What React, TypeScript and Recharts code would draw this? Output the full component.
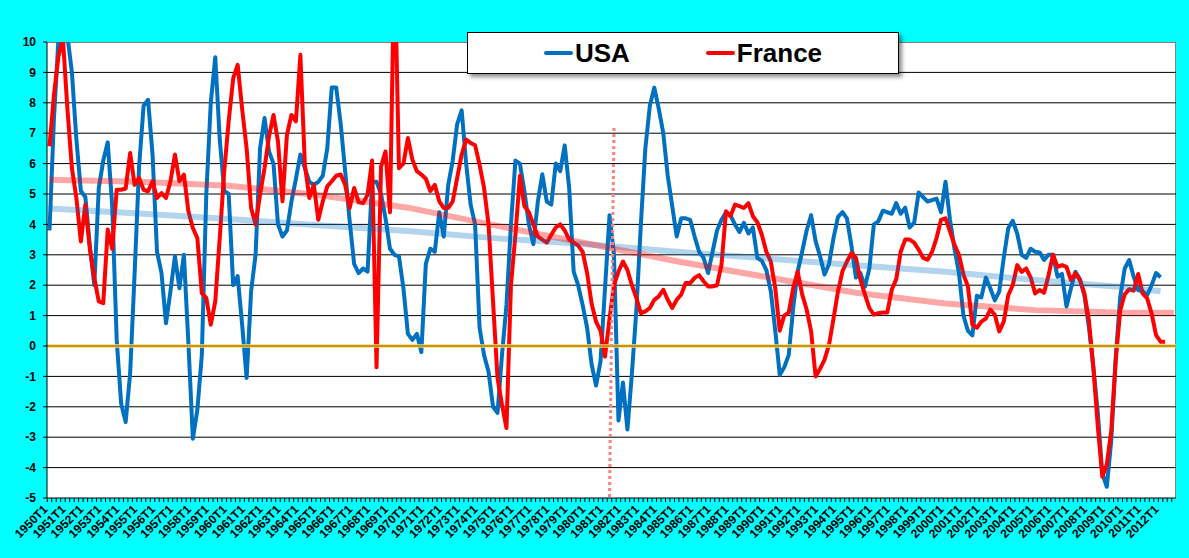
import { LineChart, Line, XAxis, YAxis, CartesianGrid, ReferenceLine } from "recharts";

const FONT = "Arial, 'Liberation Sans', sans-serif";

const FIRST_YEAR = 1950;
const LAST_YEAR = 2012;
const QUARTERS: string[] = [];
for (let y = FIRST_YEAR; y <= LAST_YEAR; y++) {
  for (let q = 1; q <= 4; q++) QUARTERS.push(`${y}T${q}`);
}

// year-on-year growth, quarterly, from 1950T1
const USA = [
  3.8, 7.5, 10.1, 11, 10.2, 9.0, 6.8, 5.1, 4.9, 3.3,
  2.0, 5.2, 6.1, 6.7, 4.6, 0.2, -1.9, -2.5, -0.9, 2.4,
  5.9, 7.9, 8.1, 6.3, 3.1, 2.4, 0.75, 1.8, 2.95, 1.9,
  3.0, 0.1, -3.05, -2.1, -0.3, 5.0, 8.0, 9.5, 6.8, 5.1,
  5.0, 2.0, 2.3, 0.7, -1.05, 1.8, 3.0, 6.5, 7.5, 6.4,
  6.0, 4.0, 3.6, 3.8, 4.75, 5.5, 6.3, 5.85, 5.4, 5.3,
  5.4, 5.6, 6.5, 8.5, 8.5, 7.3, 5.75, 4.1, 2.7, 2.4,
  2.55, 2.45, 5.4, 5.4, 5.0, 4.2, 3.2, 3.0, 2.95, 1.9,
  0.4, 0.2, 0.4, -0.2, 2.7, 3.2, 3.1, 4.4, 3.6, 5.3,
  6.1, 7.3, 7.75, 6.0, 4.65, 4.0, 0.6, -0.3, -0.85, -2.0,
  -2.2, -0.3, 1.35, 4.0, 6.1, 6.0, 5.1, 4.0, 3.35, 4.75,
  5.65, 4.75, 4.65, 6.0, 5.75, 6.6, 5.2, 2.45, 2.0, 1.35,
  0.6, -0.6, -1.3, -0.5, 1.9, 4.3, 3.0, -2.45, -1.2, -2.75,
  -0.9, 1.2, 4.0, 6.5, 7.9, 8.5, 7.8, 7.0, 5.6, 4.6,
  3.6, 4.2, 4.2, 4.15, 3.6, 3.1, 2.9, 2.4, 3.1, 3.8,
  4.15, 4.4, 4.3, 4.0, 3.75, 4.05, 3.7, 3.9, 2.9, 2.8,
  2.5, 1.8, 0.5, -0.95, -0.7, -0.3, 1.25, 2.45, 3.1, 3.8,
  4.3, 3.45, 2.95, 2.35, 2.7, 3.55, 4.25, 4.4, 4.2, 3.3,
  2.25, 2.4, 1.95, 2.55, 4.0, 4.1, 4.45, 4.4, 4.35, 4.7,
  4.35, 4.55, 3.9, 4.05, 5.05, 4.9, 4.75, 4.8, 4.85, 4.4,
  5.4, 4.15, 3.2, 2.4, 1.0, 0.5, 0.35, 1.65, 1.6, 2.25,
  1.9, 1.5, 1.8, 2.9, 3.87, 4.12, 3.7, 3.0, 2.9, 3.2,
  3.1, 3.08, 2.83, 3.0, 3.0, 2.28, 2.37, 1.3, 1.9, 2.44,
  2.2, 1.67, 0.63, -0.7, -2.2, -4.2, -4.63, -3.1, -0.35, 1.62,
  2.55, 2.83, 2.28, 1.84, 1.8, 1.67, 2.0, 2.4, 2.26,
];

const FRANCE = [
  6.57, 8.27, 9.53, 10.1, 7.8, 5.85, 4.87, 3.44, 4.65, 3.2,
  2.24, 1.47, 1.41, 3.83, 3.2, 5.14, 5.14, 5.18, 6.35, 5.3,
  5.53, 5.14, 5.09, 5.42, 4.87, 5.03, 4.87, 5.42, 6.3, 5.42,
  5.64, 4.43, 3.88, 3.55, 1.74, 1.58, 0.7, 1.47, 3.55, 5.75,
  7.4, 8.8, 9.25, 7.8, 6.5, 4.54, 4.0, 4.98, 5.86, 6.9,
  7.6, 6.73, 4.76, 6.95, 7.6, 7.39, 9.58, 5.96, 4.87, 5.3,
  4.15, 4.76, 5.25, 5.42, 5.6, 5.64, 5.3, 4.54, 5.2, 4.73,
  4.7, 4.98, 6.1, -0.7, 5.9, 6.4, 4.4, 13, 5.85, 6.0,
  6.84, 6.13, 5.75, 5.64, 5.5, 5.1, 5.3, 4.76, 4.54, 4.54,
  4.76, 5.53, 6.3, 6.79, 6.68, 6.6, 5.96, 5.2, 4.0, 1.47,
  -1.05, -1.93, -2.7, 2.0, 3.66, 5.6, 4.6, 4.4, 4.0, 3.6,
  3.5, 3.4, 3.66, 3.9, 4.0, 3.8, 3.5, 3.4, 3.3, 3.1,
  2.4, 1.4, 0.8, 0.5, -0.35, 0.9, 2.0, 2.45, 2.78, 2.5,
  2.0, 1.58, 1.08, 1.14, 1.25, 1.52, 1.63, 1.85, 1.52, 1.25,
  1.52, 1.69, 2.07, 2.07, 2.24, 2.33, 2.13, 1.96, 1.96, 2.0,
  2.68, 4.43, 4.27, 4.65, 4.6, 4.54, 4.7, 4.27, 4.07, 3.66,
  3.1, 2.78, 1.9, 0.5, 1.0, 1.1, 1.9, 2.45, 1.7, 1.2,
  0.48, -1.0, -0.75, -0.45, 0.04, 0.9, 1.8, 2.46, 2.78, 3.06,
  2.9, 2.18, 1.7, 1.25, 1.03, 1.08, 1.1, 1.1, 1.85, 2.2,
  3.1, 3.5, 3.5, 3.4, 3.17, 2.9, 2.84, 3.1, 3.55, 4.15,
  4.2, 3.77, 3.33, 3.0, 2.35, 1.96, 0.7, 0.6, 0.8, 0.9,
  1.2, 1.03, 0.48, 0.8, 1.67, 2.0, 2.66, 2.44, 2.55, 2.26,
  1.73, 1.84, 1.75, 2.33, 3.0, 2.6, 2.66, 2.6, 2.17, 2.39,
  2.17, 1.73, 0.85, -0.7, -2.66, -4.3, -3.9, -2.77, -0.46, 1.18,
  1.7, 1.87, 1.82, 2.37, 1.73, 1.57, 1.07, 0.36, 0.14, 0.14,
];

// long-run trend lines, read at a few quarters
const TREND_AT = ["1950T1", "1955T1", "1960T1", "1965T1", "1970T1", "1975T1", "1980T1",
  "1985T1", "1990T1", "1995T1", "2000T1", "2005T1", "2010T1", "2012T1", "2012T4"];
const USA_TREND = [4.52, 4.36, 4.18, 3.97, 3.78, 3.54, 3.35, 3.1, 2.88, 2.66, 2.44, 2.17, 1.93, 1.8, null];
const FRANCE_TREND = [5.47, 5.4, 5.27, 4.97, 4.55, 3.95, 3.37, 2.79, 2.27, 1.75, 1.4, 1.18, 1.09, 1.09, 1.09];

const Y_TICKS = [-5, -4, -3, -2, -1, 0, 1, 2, 3, 4, 5, 6, 7, 8, 9, 10];
const SERIES = [
  { key: "usa", name: "USA", color: "#0070C0" },
  { key: "france", name: "France", color: "#FF0000" },
];

const data = QUARTERS.map((q, i) => {
  const t = TREND_AT.indexOf(q);
  return {
    q,
    usa: i < USA.length ? USA[i] : null,
    france: i < FRANCE.length ? FRANCE[i] : null,
    usaTrend: t >= 0 ? USA_TREND[t] : null,
    franceTrend: t >= 0 ? FRANCE_TREND[t] : null,
  };
});

function QuarterTick(props: any) {
  const { x, y, payload } = props;
  const label: string = payload.value;
  const tx = x - 1;
  const ty = y + 12;
  return (
    <g>
      <line x1={x - 2.24} y1={y} x2={x - 2.24} y2={y + 4} stroke="#000" strokeWidth={1} />
      {label.endsWith("T1") && (
        <text
          x={tx}
          y={ty}
          transform={`rotate(-45 ${tx} ${ty})`}
          textAnchor="end"
          fontSize={12}
          fontWeight="bold"
          fontFamily={FONT}
          fill="#000"
        >
          {label}
        </text>
      )}
    </g>
  );
}

export default function App() {
  return (
    <div style={{ position: "absolute", left: 0, top: 0, width: 1189, height: 558, background: "#00FFFF", overflow: "hidden" }}>
      {/* plot area background */}
      <div
        style={{
          position: "absolute", left: 47, top: 42, width: 1129, height: 456, background: "#fff",
          borderTop: "1px solid #808080", borderRight: "1px solid #808080", boxSizing: "border-box",
        }}
      />
      <div style={{ position: "absolute", left: 0, top: 0 }}>
        <LineChart width={1189} height={558} data={data} margin={{ top: 42, right: 13, left: 7, bottom: 0 }}>
          <CartesianGrid vertical={false} stroke="#000" strokeWidth={1} horizontalValues={Y_TICKS.slice(1, -1)} />
          <XAxis
            dataKey="q"
            interval={0}
            height={60}
            tickSize={0}
            tickMargin={0}
            tickLine={false}
            axisLine={{ stroke: "#000" }}
            padding={{ left: 2.5, right: 2 }}
            tick={<QuarterTick />}
          />
          <YAxis
            width={40}
            domain={[-5, 10]}
            ticks={Y_TICKS}
            interval={0}
            allowDataOverflow
            axisLine={{ stroke: "#000" }}
            tickLine={{ stroke: "#000" }}
            tickSize={4}
            tickMargin={7}
            tick={{ fill: "#000", fontSize: 12, fontWeight: "bold", fontFamily: FONT }}
          />
          {SERIES.map((s) => (
            <Line
              key={s.key}
              dataKey={s.key}
              name={s.name}
              stroke={s.color}
              strokeWidth={4}
              strokeLinejoin="round"
              dot={false}
              isAnimationActive={false}
            />
          ))}
          <Line dataKey="usaTrend" stroke="#0070C0" strokeOpacity={0.3} strokeWidth={6} dot={false} connectNulls isAnimationActive={false} />
          <Line dataKey="franceTrend" stroke="#FF0000" strokeOpacity={0.35} strokeWidth={6} dot={false} connectNulls isAnimationActive={false} />
          <ReferenceLine y={0} stroke="#FFD966" strokeWidth={4} strokeOpacity={0.75} />
          <ReferenceLine y={0} stroke="#B8860B" strokeWidth={1.3} />
          <ReferenceLine
            segment={[{ x: "1981T3", y: 7.17 }, { x: "1981T2", y: -5 }]}
            stroke="#FF8080"
            strokeWidth={3}
            strokeDasharray="3 3"
          />
        </LineChart>
      </div>
      {/* legend */}
      <div
        style={{
          position: "absolute", left: 467, top: 32, width: 432, height: 42, boxSizing: "border-box",
          background: "#fff", border: "1px solid #000", boxShadow: "3px 3px 4px rgba(0,0,0,0.45)",
          display: "flex", alignItems: "center", justifyContent: "center", gap: 76,
          fontFamily: FONT, fontWeight: "bold", fontSize: 26, color: "#000",
        }}
      >
        {SERIES.map((s) => (
          <span key={s.key} style={{ display: "flex", alignItems: "center", gap: 2 }}>
            <span style={{ display: "inline-block", width: 29, height: 4, borderRadius: 2, background: s.color }} />
            {s.name}
          </span>
        ))}
      </div>
    </div>
  );
}
